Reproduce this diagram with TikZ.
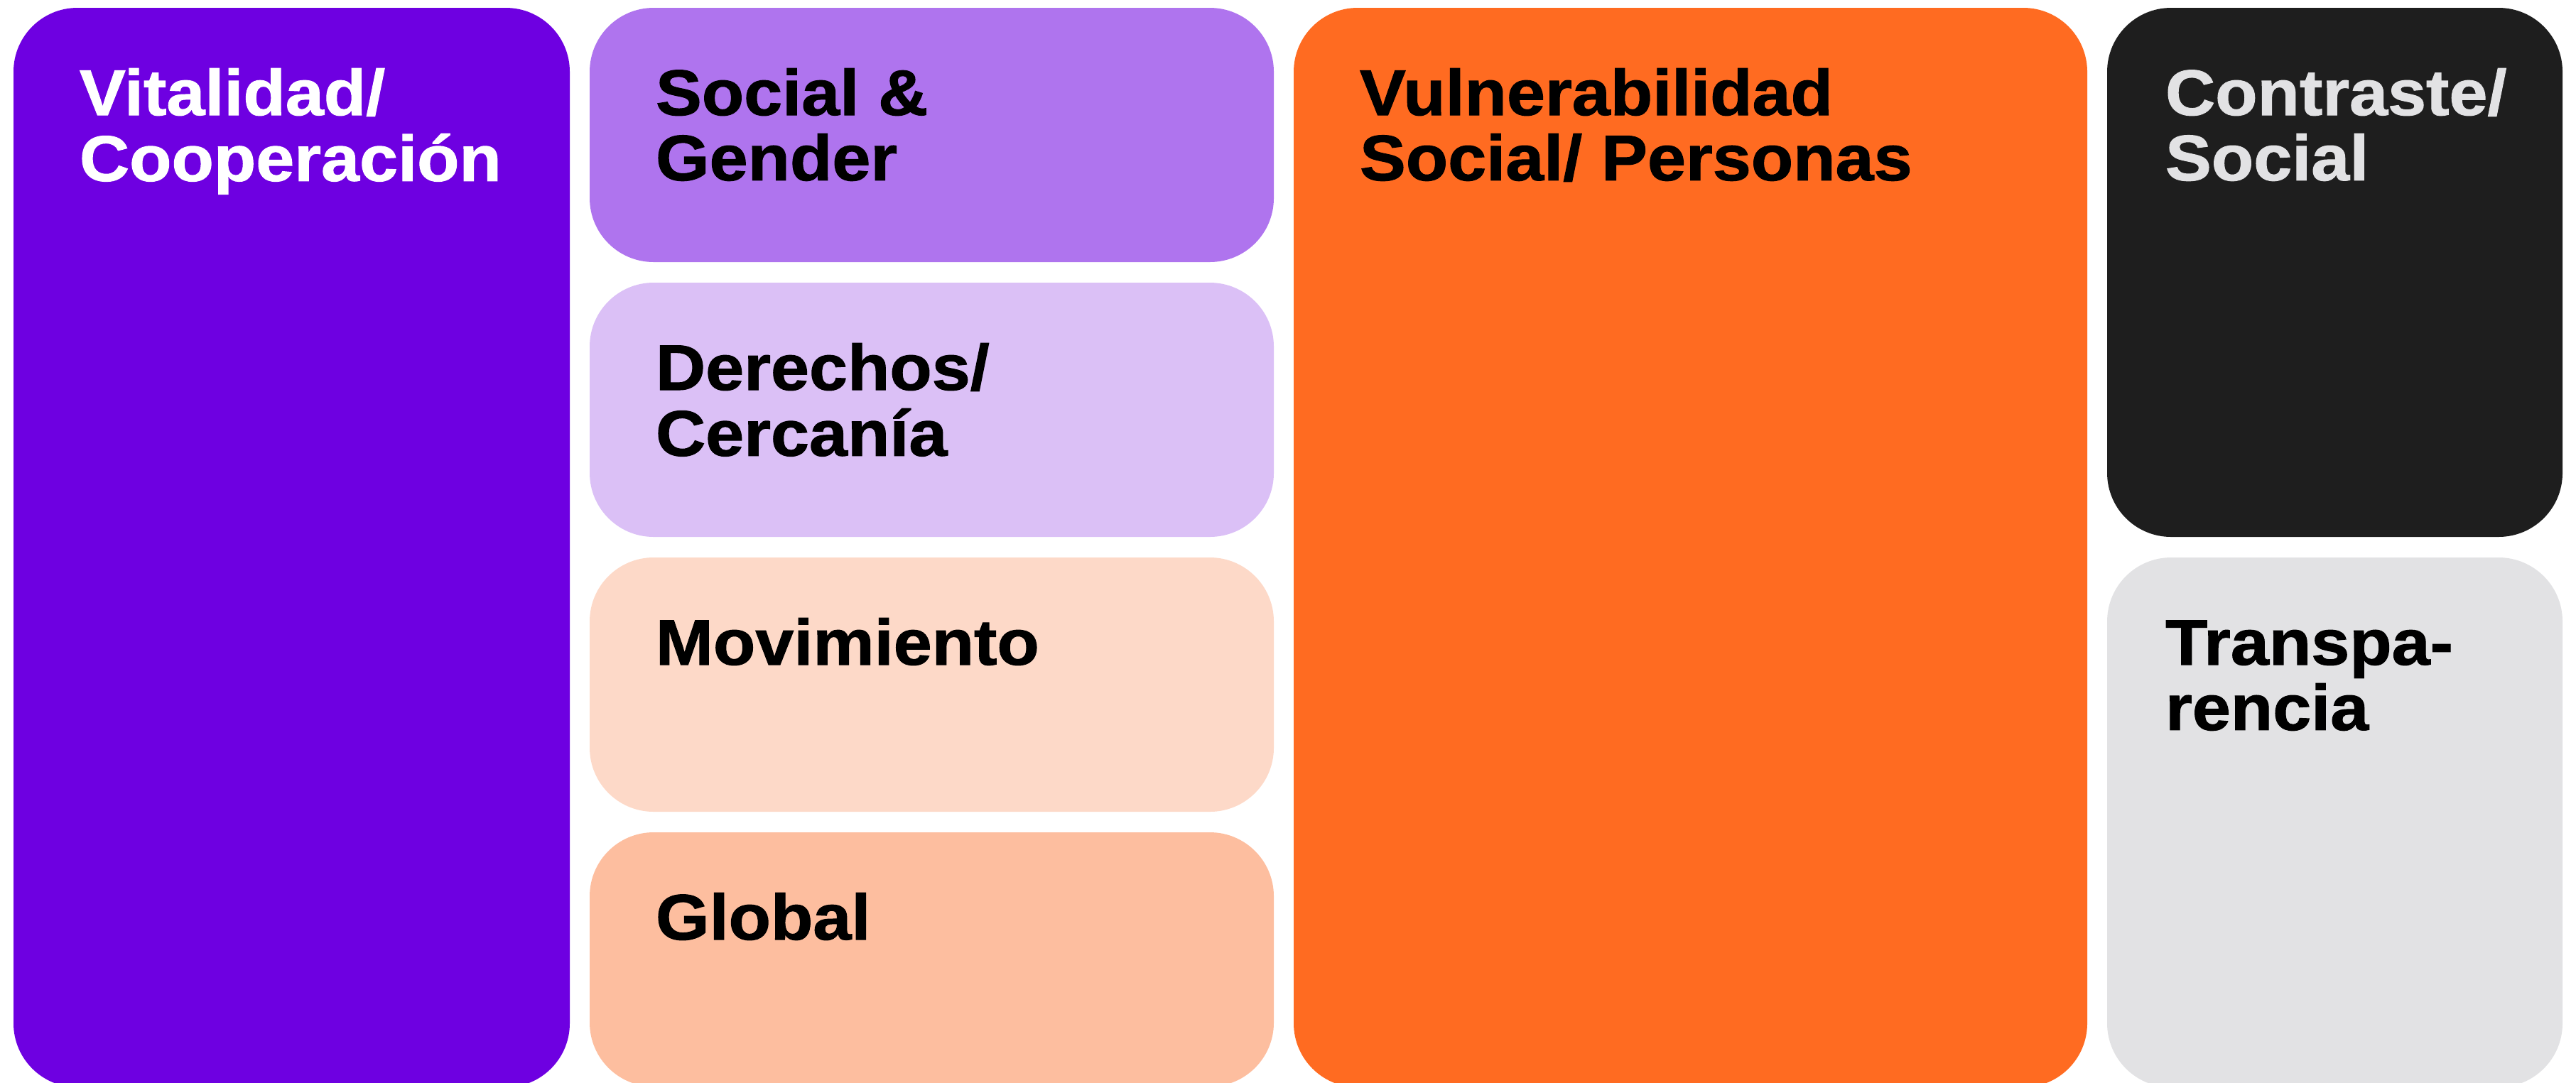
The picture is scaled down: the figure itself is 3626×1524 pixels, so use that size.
\documentclass[tikz,border=0pt]{standalone}
\usepackage{fontspec}
\newfontfamily\tilefont{Liberation Sans}[FakeStretch=1.07,FakeBold=1.2]

\definecolor{vitviolet}{HTML}{6E00E1}
\definecolor{lilac}{HTML}{AF74EE}
\definecolor{palelilac}{HTML}{DBC0F6}
\definecolor{palepeach}{HTML}{FDD9C8}
\definecolor{peach}{HTML}{FDBE9F}
\definecolor{vivorange}{HTML}{FF6B21}
\definecolor{ink}{HTML}{1E1E1E}
\definecolor{mist}{HTML}{E2E2E4}

\begin{document}
\begin{tikzpicture}[x=0.25pt,y=-0.25pt,
  tile/.style={rectangle, rounded corners=22.5pt, draw=none, inner sep=0pt,
    outer sep=0pt, anchor=north west},
  caption/.style={anchor=base west, inner sep=0pt, outer sep=0pt,
    font=\tilefont\bfseries\fontsize{22.7pt}{21.75pt}\selectfont}]

\useasboundingbox (0,0) rectangle (3626,1524);

\begin{scope}
\clip (0,0) rectangle (3626,1524);
% left column
\node[tile, fill=vitviolet, minimum width=195.75pt, minimum height=380pt] (vit) at (19,11) {};
% stacked middle column
\node[tile, fill=lilac, minimum width=240.75pt, minimum height=89.5pt] (soc) at (830,11) {};
\node[tile, fill=palelilac, minimum width=240.75pt, minimum height=89.5pt] (der) at (830,398) {};
\node[tile, fill=palepeach, minimum width=240.75pt, minimum height=89.5pt] (mov) at (830,785) {};
\node[tile, fill=peach, minimum width=240.75pt, minimum height=89.5pt] (glo) at (830,1172) {};
% wide orange column
\node[tile, fill=vivorange, minimum width=279.25pt, minimum height=380pt] (vul) at (1821,11) {};
% right column
\node[tile, fill=ink, minimum width=160.25pt, minimum height=186.25pt] (con) at (2966,11) {};
\node[tile, fill=mist, minimum width=160.25pt, minimum height=186.5pt] (tra) at (2966,785) {};
\end{scope}

\node[caption, text=white] (vitT) at ([shift={(93,151)}]vit.north west)
  {\begin{tabular}[t]{@{}l@{}}Vitalidad/\\Cooperación\end{tabular}};
\node[caption, text=black] (socT) at ([shift={(93,151)}]soc.north west)
  {\begin{tabular}[t]{@{}l@{}}Social \&\\Gender\end{tabular}};
\node[caption, text=black] (derT) at ([shift={(93,151)}]der.north west)
  {\begin{tabular}[t]{@{}l@{}}Derechos/\\Cercanía\end{tabular}};
\node[caption, text=black] (movT) at ([shift={(93,151)}]mov.north west) {Movimiento};
\node[caption, text=black] (gloT) at ([shift={(93,151)}]glo.north west) {Global};
\node[caption, text=black] (vulT) at ([shift={(93,151)}]vul.north west)
  {\begin{tabular}[t]{@{}l@{}}Vulnerabilidad\\Social/ Personas\end{tabular}};
\node[caption, text=mist] (conT) at ([shift={(82,151)}]con.north west)
  {\begin{tabular}[t]{@{}l@{}}Contraste/\\Social\end{tabular}};
\node[caption, text=black] (traT) at ([shift={(82,151)}]tra.north west)
  {\begin{tabular}[t]{@{}l@{}}Transpa-\\rencia\end{tabular}};
\end{tikzpicture}
\end{document}
